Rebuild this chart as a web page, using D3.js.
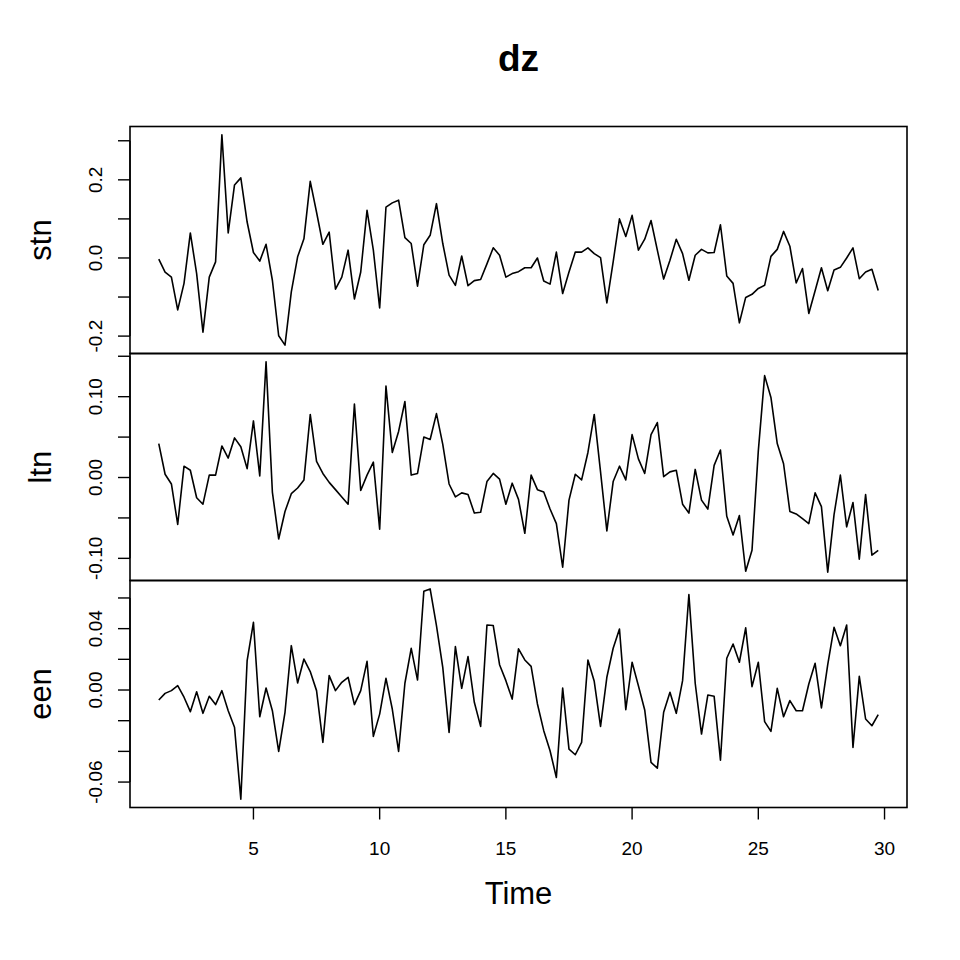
<!DOCTYPE html>
<html>
<head>
<meta charset="utf-8">
<script src="https://cdn.jsdelivr.net/npm/d3@7"></script>
<style>
  body { margin: 0; background: #fff; }
  svg { display: block; }
  text { font-family: "Liberation Sans", Arial, Helvetica, sans-serif; fill: #000; }
</style>
</head>
<body>
<svg id="chart" width="960" height="960"></svg>
<script>
// quarterly series, start 1.25 (year 1, quarter 2), frequency 4
const tsStart = 1.25;
const tsFreq = 4;

const stn = [
  -0.003, -0.036, -0.049, -0.133, -0.065, 0.064, -0.040, -0.190, -0.049, -0.010,
  0.315, 0.064, 0.187, 0.205, 0.092, 0.014, -0.008, 0.035, -0.057, -0.199,
  -0.223, -0.087, 0.003, 0.049, 0.196, 0.117, 0.035, 0.066, -0.080, -0.049,
  0.020, -0.105, -0.036, 0.122, 0.020, -0.128, 0.130, 0.141, 0.148, 0.052,
  0.037, -0.072, 0.034, 0.058, 0.139, 0.037, -0.044, -0.070, 0.005, -0.071,
  -0.058, -0.055, -0.015, 0.026, 0.007, -0.049, -0.040, -0.035, -0.025, -0.025,
  0.000, -0.059, -0.067, 0.015, -0.091, -0.036, 0.015, 0.015, 0.026, 0.011,
  0.001, -0.115, -0.010, 0.100, 0.055, 0.109, 0.020, 0.048, 0.096, 0.020,
  -0.054, -0.006, 0.048, 0.011, -0.057, 0.007, 0.022, 0.013, 0.014, 0.085,
  -0.046, -0.065, -0.166, -0.101, -0.093, -0.078, -0.070, 0.004, 0.022, 0.068,
  0.030, -0.064, -0.027, -0.142, -0.084, -0.025, -0.084, -0.031, -0.024, 0.000,
  0.026, -0.053, -0.036, -0.029, -0.083
];

const ltn = [
  0.042, 0.004, -0.008, -0.058, 0.014, 0.009, -0.025, -0.033, 0.003, 0.003,
  0.039, 0.024, 0.049, 0.038, 0.011, 0.070, 0.002, 0.143, -0.018, -0.076,
  -0.042, -0.020, -0.013, -0.003, 0.078, 0.020, 0.005, -0.006, -0.015, -0.024,
  -0.033, 0.091, -0.016, 0.003, 0.019, -0.064, 0.113, 0.031, 0.057, 0.094,
  0.003, 0.005, 0.050, 0.047, 0.079, 0.041, -0.008, -0.024, -0.019, -0.021,
  -0.044, -0.043, -0.005, 0.005, -0.002, -0.033, -0.007, -0.027, -0.069, 0.003,
  -0.015, -0.018, -0.039, -0.057, -0.111, -0.028, 0.004, -0.003, 0.031, 0.078,
  0.007, -0.066, -0.005, 0.014, -0.003, 0.053, 0.023, 0.005, 0.053, 0.068,
  0.001, 0.007, 0.009, -0.033, -0.044, 0.010, -0.028, -0.039, 0.015, 0.034,
  -0.048, -0.071, -0.047, -0.116, -0.090, 0.033, 0.126, 0.099, 0.042, 0.017,
  -0.042, -0.045, -0.051, -0.057, -0.019, -0.036, -0.117, -0.046, 0.003, -0.061,
  -0.031, -0.101, -0.021, -0.096, -0.090
];

const een = [
  -0.0065, -0.0022, -0.0004, 0.0028, -0.0047, -0.0141, -0.0011, -0.0152, -0.0041, -0.0095,
  -0.0004, -0.0135, -0.0243, -0.0711, 0.0191, 0.0441, -0.0174, 0.0013, -0.0135, -0.0400,
  -0.0145, 0.0289, 0.0046, 0.0202, 0.0120, -0.0004, -0.0341, 0.0094, -0.0004, 0.0050,
  0.0083, -0.0095, -0.0004, 0.0187, -0.0302, -0.0157, 0.0076, -0.0124, -0.0400, 0.0044,
  0.0272, 0.0065, 0.0644, 0.0659, 0.0420, 0.0148, -0.0276, 0.0283, 0.0011, 0.0218,
  -0.0080, -0.0237, 0.0424, 0.0420, 0.0165, 0.0061, -0.0059, 0.0268, 0.0196, 0.0154,
  -0.0091, -0.0265, -0.0396, -0.0570, 0.0013, -0.0385, -0.0422, -0.0341, 0.0196, 0.0057,
  -0.0237, 0.0083, 0.0272, 0.0398, -0.0128, 0.0181, 0.0028, -0.0130, -0.0472, -0.0509,
  -0.0145, -0.0015, -0.0152, 0.0061, 0.0622, 0.0044, -0.0287, -0.0033, -0.0041, -0.0457,
  0.0207, 0.0300, 0.0181, 0.0405, 0.0022, 0.0181, -0.0206, -0.0270, 0.0011, -0.0174,
  -0.0069, -0.0135, -0.0135, 0.0039, 0.0174, -0.0117, 0.0165, 0.0409, 0.0289, 0.0424,
  -0.0374, 0.0089, -0.0189, -0.0233, -0.0161
];

const seriesNames = ["stn", "ltn", "een"];

// tick positions and the labels R actually printed (others dropped for overlap)
const stnTicks = [-0.2, -0.1, 0, 0.1, 0.2, 0.3];
const stnLabels = ["-0.2", "0.0", "0.2"];
const ltnTicks = [-0.10, -0.05, 0, 0.05, 0.10, 0.15];
const ltnLabels = ["-0.10", "0.00", "0.10"];
const eenTicks = [-0.06, -0.04, -0.02, 0, 0.02, 0.04, 0.06];
const eenLabels = ["-0.06", "0.00", "0.04"];
const timeTicks = [5, 10, 15, 20, 25, 30];

const title = "dz";
const xTitle = "Time";

const panels = [
  { name: seriesNames[0], values: stn, ticks: stnTicks, labels: stnLabels },
  { name: seriesNames[1], values: ltn, ticks: ltnTicks, labels: ltnLabels },
  { name: seriesNames[2], values: een, ticks: eenTicks, labels: eenLabels }
];

const svg = d3.select("#chart");
svg.append("rect").attr("width", 960).attr("height", 960).attr("fill", "#fff");

const plotLeft = 130, plotRight = 907, plotTop = 126.5, plotBottom = 807.5;
const panelH = (plotBottom - plotTop) / panels.length;
const tickLen = 12;

const time = stn.map((d, i) => tsStart + i / tsFreq);

// R style: range padded by 4%
function rpad(ext) {
  const p = (ext[1] - ext[0]) * 0.04;
  return [ext[0] - p, ext[1] + p];
}

const x = d3.scaleLinear().domain(rpad(d3.extent(time))).range([plotLeft, plotRight]);

panels.forEach((p, k) => {
  const y0 = plotTop + k * panelH;
  const y = d3.scaleLinear().domain(rpad(d3.extent(p.values))).range([y0 + panelH, y0]);
  const g = svg.append("g");

  const line = d3.line().x((d, i) => x(time[i])).y(d => y(d));
  g.append("path")
    .datum(p.values)
    .attr("d", line)
    .attr("fill", "none")
    .attr("stroke", "#000")
    .attr("stroke-width", 1.6)
    .attr("stroke-linejoin", "round");

  // y axis ticks
  const yAxis = g.append("g");
  yAxis.selectAll("line")
    .data(p.ticks)
    .enter()
    .append("line")
    .attr("x1", plotLeft - tickLen).attr("x2", plotLeft)
    .attr("y1", d => y(d)).attr("y2", d => y(d))
    .attr("stroke", "#000").attr("stroke-width", 1.4);
  yAxis.append("line")
    .attr("x1", plotLeft).attr("x2", plotLeft)
    .attr("y1", y(d3.min(p.ticks))).attr("y2", y(d3.max(p.ticks)))
    .attr("stroke", "#000").attr("stroke-width", 1.4);
  yAxis.selectAll("text")
    .data(p.labels)
    .enter()
    .append("text")
    .attr("transform", d => "translate(101.5," + y(+d) + ") rotate(-90)")
    .attr("text-anchor", "middle")
    .attr("font-size", 19)
    .text(d => d);

  g.append("text")
    .attr("transform", "translate(51," + (y0 + panelH / 2) + ") rotate(-90)")
    .attr("text-anchor", "middle")
    .attr("font-size", 31)
    .text(p.name);

  g.append("rect")
    .attr("x", plotLeft).attr("y", y0)
    .attr("width", plotRight - plotLeft).attr("height", panelH)
    .attr("fill", "none")
    .attr("stroke", "#000")
    .attr("stroke-width", 1.6);
});

// time axis on the bottom panel
const xAxis = svg.append("g");
xAxis.selectAll("line")
  .data(timeTicks)
  .enter()
  .append("line")
  .attr("x1", d => x(d)).attr("x2", d => x(d))
  .attr("y1", plotBottom).attr("y2", plotBottom + tickLen)
  .attr("stroke", "#000").attr("stroke-width", 1.4);
xAxis.selectAll("text")
  .data(timeTicks)
  .enter()
  .append("text")
  .attr("x", d => x(d))
  .attr("y", 855)
  .attr("text-anchor", "middle")
  .attr("font-size", 19)
  .text(d => d);

svg.append("text")
  .attr("x", (plotLeft + plotRight) / 2)
  .attr("y", 904)
  .attr("text-anchor", "middle")
  .attr("font-size", 31)
  .text(xTitle);

svg.append("text")
  .attr("x", (plotLeft + plotRight) / 2)
  .attr("y", 71)
  .attr("text-anchor", "middle")
  .attr("font-size", 37)
  .attr("font-weight", "bold")
  .text(title);
</script>
</body>
</html>
